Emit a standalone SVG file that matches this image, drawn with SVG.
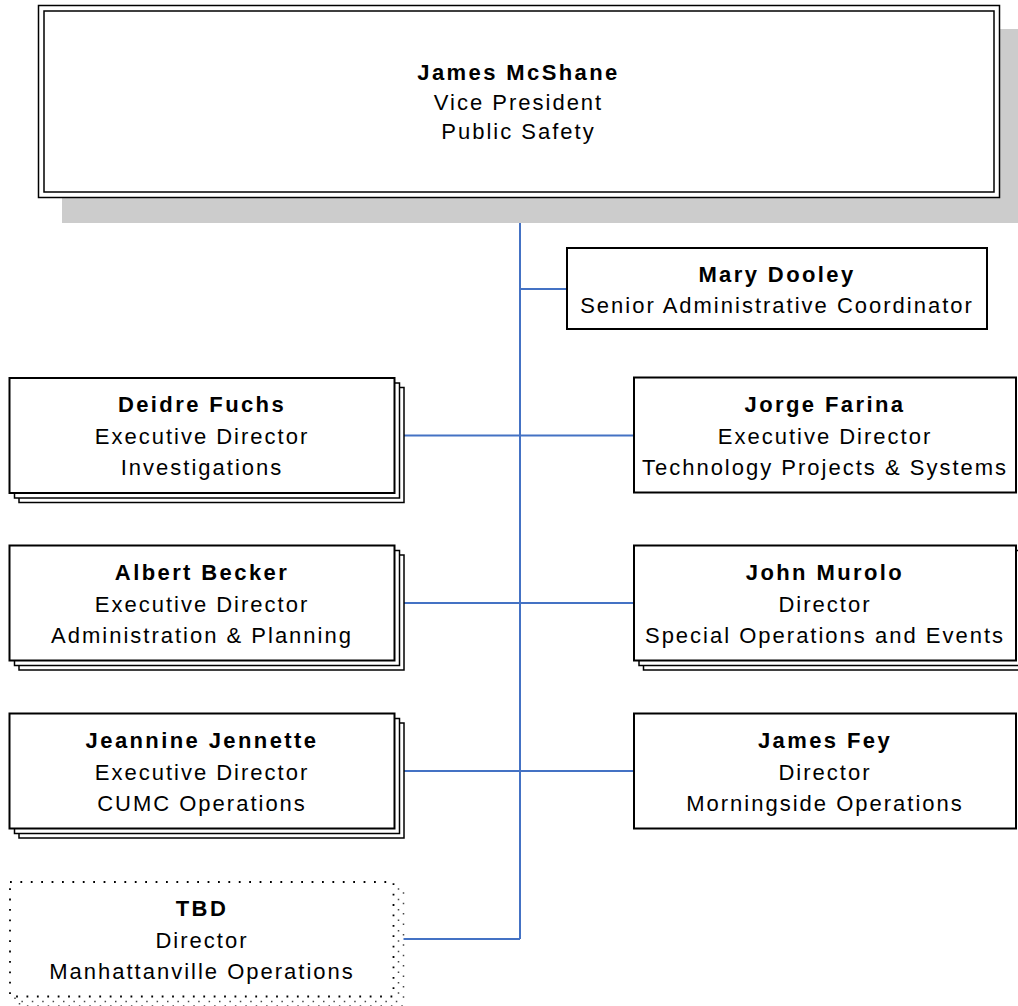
<svg xmlns="http://www.w3.org/2000/svg" width="1018" height="1006" viewBox="0 0 1018 1006">
<style>
text{font-family:"Liberation Sans",Arial,sans-serif;font-size:22px;fill:#000;text-anchor:middle;letter-spacing:2px}
.b{font-weight:bold;letter-spacing:2.4px}
.box{fill:#fff;stroke:#000;stroke-width:2}
.back{fill:#fff;stroke:#000;stroke-width:1.5}
.dot{fill:#fff;stroke:#000;stroke-width:1.8;stroke-dasharray:1.8 8.6}
.dotb{fill:#fff;stroke:#444;stroke-width:1.5;stroke-dasharray:1.5 8.9}
.conn{fill:none;stroke:#4472C4;stroke-width:2}
</style>
<rect width="1018" height="1006" fill="#fff"/>
<g id="connectors">
<path class="conn" d="M520,197V939M520,289H567M394,435.5H634M394,603H634M394,771H634M394,939H520"/>
</g>
<g id="vp">
<rect x="62" y="29" width="960" height="194" fill="#cccccc"/>
<rect x="38.5" y="5.5" width="961" height="192" fill="#fff" stroke="#000" stroke-width="1.5"/>
<rect x="44" y="11" width="950" height="181" fill="none" stroke="#000" stroke-width="1.5"/>
<text class="b" x="518.5" y="80">James McShane</text>
<text x="518.5" y="109.5">Vice President</text>
<text x="518.5" y="139">Public Safety</text>
</g>
<g id="dooley">
<rect class="box" x="567" y="248" width="420" height="81"/>
<text class="b" x="777" y="282">Mary Dooley</text>
<text x="777" y="313">Senior Administrative Coordinator</text>
</g>
<g id="fuchs">
<rect class="back" x="19" y="387.5" width="385" height="115"/>
<rect class="back" x="14.5" y="383" width="385" height="115"/>
<rect class="box" x="9.5" y="378" width="385" height="115"/>
<text class="b" x="202" y="412">Deidre Fuchs</text>
<text x="202" y="443.5">Executive Director</text>
<text x="202" y="475">Investigations</text>
</g>
<g id="farina">
<rect class="box" x="634" y="377.5" width="382" height="115"/>
<text class="b" x="825" y="412">Jorge Farina</text>
<text x="825" y="443.5">Executive Director</text>
<text x="825" y="475">Technology Projects &amp; Systems</text>
</g>
<g id="becker">
<rect class="back" x="19" y="555" width="385" height="115"/>
<rect class="back" x="14.5" y="550.5" width="385" height="115"/>
<rect class="box" x="9.5" y="545.5" width="385" height="115"/>
<text class="b" x="202" y="580">Albert Becker</text>
<text x="202" y="611.5">Executive Director</text>
<text x="202" y="643">Administration &amp; Planning</text>
</g>
<g id="murolo">
<rect class="back" x="643.5" y="555" width="382" height="115"/>
<rect class="back" x="639" y="550.5" width="382" height="115"/>
<rect class="box" x="634" y="545.5" width="382" height="115"/>
<text class="b" x="825" y="580">John Murolo</text>
<text x="825" y="611.5">Director</text>
<text x="825" y="643">Special Operations and Events</text>
</g>
<g id="jennette">
<rect class="back" x="19" y="723" width="385" height="115"/>
<rect class="back" x="14.5" y="718.5" width="385" height="115"/>
<rect class="box" x="9.5" y="713.5" width="385" height="115"/>
<text class="b" x="202" y="748">Jeannine Jennette</text>
<text x="202" y="779.5">Executive Director</text>
<text x="202" y="811">CUMC Operations</text>
</g>
<g id="fey">
<rect class="box" x="634" y="713.5" width="382" height="115"/>
<text class="b" x="825" y="748">James Fey</text>
<text x="825" y="779.5">Director</text>
<text x="825" y="811">Morningside Operations</text>
</g>
<g id="tbd">
<rect class="dotb" x="19.5" y="891.5" width="384" height="114.5"/>
<rect class="dotb" x="15" y="887" width="383.5" height="114.5"/>
<rect class="dot" x="10" y="882" width="383.5" height="114.5"/>
<text class="b" x="202" y="916">TBD</text>
<text x="202" y="947.5">Director</text>
<text x="202" y="979">Manhattanville Operations</text>
</g>
</svg>
